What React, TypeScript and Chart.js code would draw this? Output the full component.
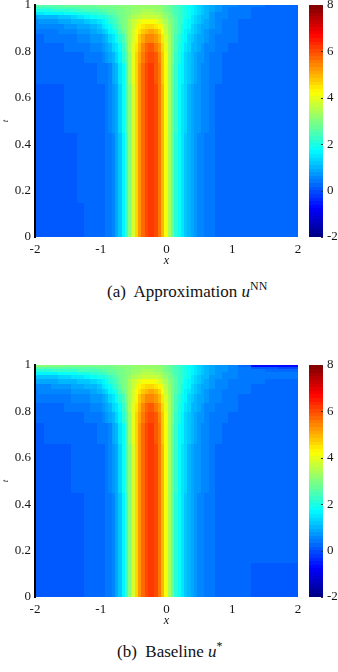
import React, { useEffect, useRef } from 'react';
import { Chart, registerables } from 'chart.js';

Chart.register(...registerables);

// grid columns (x) and rows (t)
const X_LEFT = [-2, -1.9, -1.8, -1.7, -1.6, -1.5, -1.4, -1.3, -1.2, -1.1, -1.0];
const X_MID = [-0.95, -0.9, -0.85, -0.8, -0.75, -0.7, -0.65, -0.6,
  -0.55, -0.5, -0.45, -0.4, -0.35, -0.3, -0.25, -0.2,
  -0.15, -0.1, -0.05, 0, 0.05, 0.1, 0.15, 0.2,
  0.25, 0.3, 0.35, 0.4, 0.45, 0.5, 0.55, 0.6];
const X_RIGHT = [0.7, 0.8, 0.9, 1.0, 1.2, 1.4, 1.6, 1.8, 2.0];
const T_NODES = [0, 0.3, 0.6, 0.72, 0.78, 0.82, 0.86, 0.89, 0.91, 0.93, 0.95, 0.965, 0.98, 0.99, 1.0];

const X_TICK_STEP = 1;
const T_TICK_STEP = 0.2;
const CB_MIN = -2;
const CB_MAX = 8;
const CB_STEP = 2;

// ---- (a) Approximation u^NN (rows bottom -> top) ----
const A_LEFT = [
  [0.15,0.15,0.15,0.15,0.15,0.16,0.17,0.18,0.2,0.22,0.25],
  [0.15,0.15,0.15,0.15,0.16,0.17,0.18,0.19,0.2,0.22,0.25],
  [0.17,0.17,0.17,0.18,0.18,0.19,0.2,0.21,0.22,0.24,0.27],
  [0.19,0.2,0.2,0.21,0.22,0.24,0.26,0.28,0.3,0.33,0.37],
  [0.22,0.23,0.24,0.25,0.27,0.29,0.31,0.34,0.38,0.42,0.48],
  [0.27,0.28,0.29,0.31,0.33,0.35,0.38,0.42,0.47,0.53,0.6],
  [0.33,0.34,0.36,0.38,0.41,0.44,0.48,0.53,0.6,0.68,0.8],
  [0.42,0.44,0.46,0.49,0.53,0.57,0.62,0.69,0.77,0.86,0.97],
  [0.5,0.52,0.55,0.59,0.64,0.7,0.77,0.85,0.95,1.07,1.25],
  [0.65,0.68,0.72,0.77,0.83,0.9,0.98,1.07,1.18,1.32,1.5],
  [0.95,1.0,1.05,1.11,1.18,1.26,1.35,1.46,1.6,1.78,1.95],
  [1.5,1.55,1.6,1.66,1.72,1.79,1.86,1.94,2.03,2.13,2.24],
  [1.95,2.0,2.05,2.1,2.15,2.2,2.26,2.32,2.38,2.45,2.52],
  [2.3,2.33,2.36,2.4,2.44,2.48,2.52,2.56,2.6,2.65,2.7],
  [2.6,2.62,2.64,2.66,2.68,2.7,2.72,2.75,2.78,2.81,2.85],
];
const A_MID = [
  [0.3,0.36,0.46,0.62, 0.85,1.2,1.7,2.35, 3.1,3.9,4.6,5.25, 5.75,6.05,6.2,6.2, 6.0,5.55,4.9,4.15, 3.4,2.75,2.2,1.8, 1.5,1.25,1.05,0.9, 0.76,0.64,0.55,0.48],
  [0.3,0.36,0.46,0.62, 0.85,1.2,1.7,2.35, 3.1,3.9,4.6,5.25, 5.75,6.05,6.2,6.2, 6.0,5.55,4.9,4.15, 3.4,2.75,2.2,1.8, 1.5,1.25,1.05,0.9, 0.76,0.64,0.55,0.48],
  [0.33,0.4,0.52,0.7, 0.95,1.3,1.78,2.4, 3.12,3.9,4.6,5.25, 5.75,6.05,6.2,6.2, 6.0,5.55,4.9,4.15, 3.42,2.78,2.25,1.85, 1.55,1.3,1.1,0.94, 0.8,0.68,0.58,0.5],
  [0.4,0.48,0.62,0.85, 1.1,1.45,1.9,2.5, 3.2,3.95,4.6,5.2, 5.7,6.0,6.15,6.15, 5.95,5.5,4.85,4.15, 3.45,2.8,2.3,1.9, 1.6,1.35,1.15,0.98, 0.84,0.72,0.62,0.54],
  [0.56,0.68,0.85,1.05, 1.35,1.7,2.1,2.65, 3.3,4.0,4.6,5.15, 5.6,5.9,6.05,6.05, 5.85,5.4,4.8,4.1, 3.45,2.85,2.35,1.95, 1.65,1.42,1.22,1.05, 0.9,0.78,0.68,0.6],
  [0.7,0.85,1.05,1.3, 1.58,1.9,2.3,2.8, 3.35,3.95,4.5,5.0, 5.4,5.7,5.85,5.85, 5.65,5.25,4.7,4.05, 3.45,2.9,2.45,2.05, 1.75,1.5,1.3,1.12, 0.97,0.84,0.74,0.65],
  [0.92,1.08,1.3,1.55, 1.85,2.15,2.5,2.95, 3.4,3.9,4.35,4.75, 5.1,5.35,5.45,5.45, 5.3,4.95,4.45,3.9, 3.35,2.9,2.5,2.15, 1.85,1.6,1.4,1.22, 1.06,0.93,0.82,0.72],
  [1.15,1.35,1.6,1.85, 2.1,2.4,2.7,3.05, 3.45,3.85,4.2,4.55, 4.8,5.0,5.05,5.05, 4.9,4.6,4.2,3.75, 3.3,2.9,2.55,2.25, 1.95,1.7,1.5,1.32, 1.15,1.0,0.88,0.78],
  [1.45,1.65,1.88,2.1, 2.35,2.6,2.85,3.15, 3.45,3.75,4.05,4.3, 4.5,4.62,4.68,4.66, 4.55,4.3,3.95,3.6, 3.25,2.9,2.6,2.3, 2.05,1.8,1.6,1.4, 1.22,1.07,0.94,0.83],
  [1.72,1.9,2.1,2.3, 2.5,2.7,2.92,3.15, 3.4,3.65,3.85,4.0, 4.12,4.2,4.22,4.2, 4.1,3.92,3.68,3.4, 3.12,2.85,2.6,2.35, 2.1,1.88,1.68,1.48, 1.3,1.14,1.0,0.88],
  [2.05,2.2,2.35,2.5, 2.64,2.78,2.93,3.08, 3.23,3.38,3.5,3.6, 3.68,3.73,3.75,3.73, 3.65,3.53,3.37,3.17, 2.96,2.75,2.55,2.35, 2.15,1.95,1.76,1.57, 1.4,1.24,1.1,0.97],
  [2.35,2.45,2.55,2.65, 2.75,2.85,2.95,3.05, 3.15,3.25,3.35,3.42, 3.48,3.52,3.53,3.5, 3.44,3.34,3.2,3.04, 2.86,2.68,2.5,2.32, 2.14,1.96,1.78,1.6, 1.44,1.29,1.15,1.02],
  [2.58,2.64,2.7,2.76, 2.82,2.88,2.95,3.02, 3.09,3.16,3.22,3.28, 3.32,3.35,3.36,3.34, 3.3,3.22,3.1,2.96, 2.8,2.64,2.48,2.32, 2.16,2.0,1.83,1.66, 1.5,1.35,1.2,1.07],
  [2.74,2.78,2.82,2.86, 2.9,2.95,3.0,3.05, 3.1,3.15,3.2,3.24, 3.27,3.3,3.3,3.28, 3.24,3.16,3.05,2.92, 2.77,2.62,2.47,2.32, 2.17,2.02,1.86,1.7, 1.54,1.39,1.24,1.1],
  [2.87,2.9,2.93,2.96, 2.99,3.02,3.05,3.08, 3.12,3.16,3.2,3.23, 3.26,3.28,3.28,3.26, 3.22,3.14,3.03,2.9, 2.75,2.6,2.45,2.3, 2.15,2.0,1.85,1.7, 1.55,1.4,1.25,1.12],
];
const A_RIGHT = [
  [0.38,0.32,0.28,0.25,0.2,0.2,0.21,0.22,0.22],
  [0.38,0.32,0.28,0.25,0.21,0.21,0.22,0.23,0.23],
  [0.4,0.34,0.3,0.27,0.24,0.24,0.25,0.25,0.25],
  [0.43,0.36,0.31,0.28,0.25,0.25,0.25,0.25,0.25],
  [0.48,0.4,0.34,0.3,0.26,0.25,0.25,0.25,0.25],
  [0.52,0.43,0.37,0.32,0.27,0.26,0.26,0.26,0.26],
  [0.58,0.48,0.4,0.35,0.29,0.27,0.26,0.26,0.26],
  [0.62,0.51,0.43,0.37,0.31,0.28,0.27,0.27,0.27],
  [0.66,0.54,0.45,0.39,0.32,0.29,0.28,0.28,0.28],
  [0.7,0.57,0.47,0.41,0.33,0.3,0.29,0.28,0.28],
  [0.77,0.62,0.51,0.44,0.35,0.31,0.29,0.28,0.28],
  [0.8,0.65,0.53,0.45,0.36,0.32,0.3,0.29,0.29],
  [0.83,0.67,0.55,0.47,0.37,0.33,0.31,0.3,0.3],
  [0.85,0.69,0.57,0.48,0.38,0.34,0.32,0.31,0.31],
  [0.87,0.7,0.58,0.5,0.4,0.35,0.33,0.32,0.32],
];

// ---- (b) Baseline u* (rows bottom -> top) ----
const B_LEFT = [
  [0.12,0.12,0.13,0.13,0.14,0.15,0.16,0.17,0.19,0.21,0.25],
  [0.13,0.13,0.14,0.14,0.15,0.16,0.17,0.18,0.2,0.22,0.25],
  [0.15,0.15,0.16,0.16,0.17,0.18,0.19,0.2,0.22,0.24,0.27],
  [0.18,0.18,0.19,0.2,0.21,0.23,0.25,0.27,0.3,0.33,0.37],
  [0.22,0.22,0.23,0.24,0.26,0.28,0.3,0.33,0.37,0.42,0.48],
  [0.27,0.28,0.29,0.31,0.33,0.35,0.38,0.42,0.47,0.53,0.6],
  [0.36,0.37,0.39,0.41,0.44,0.47,0.51,0.56,0.62,0.7,0.8],
  [0.48,0.5,0.52,0.55,0.58,0.62,0.67,0.73,0.8,0.88,0.97],
  [0.6,0.62,0.65,0.68,0.72,0.77,0.83,0.9,0.98,1.08,1.25],
  [0.82,0.85,0.88,0.92,0.97,1.02,1.08,1.15,1.24,1.36,1.5],
  [1.15,1.18,1.22,1.27,1.32,1.38,1.45,1.53,1.63,1.78,1.95],
  [1.6,1.63,1.67,1.72,1.77,1.83,1.9,1.97,2.05,2.14,2.24],
  [2.15,2.17,2.2,2.23,2.26,2.3,2.34,2.38,2.42,2.47,2.52],
  [2.55,2.56,2.57,2.58,2.6,2.61,2.62,2.64,2.66,2.68,2.7],
  [3.0,3.0,3.0,3.0,3.0,2.98,2.97,2.96,2.95,2.95,2.95],
];
const B_MID_TOP = [2.95,2.96,2.97,2.98, 3.0,3.02,3.05,3.08, 3.12,3.16,3.2,3.23, 3.26,3.28,3.28,3.26, 3.22,3.14,3.03,2.9, 2.75,2.6,2.45,2.3, 2.15,2.0,1.85,1.7, 1.55,1.4,1.25,1.12];
const B_MID = [...A_MID.slice(0, 14), B_MID_TOP];
const B_RIGHT = [
  [0.36,0.3,0.26,0.23,0.19,0.18,0.18,0.18,0.18],
  [0.37,0.31,0.27,0.24,0.21,0.2,0.2,0.2,0.2],
  [0.38,0.32,0.28,0.26,0.23,0.22,0.22,0.23,0.23],
  [0.43,0.36,0.32,0.29,0.25,0.24,0.24,0.24,0.24],
  [0.48,0.41,0.36,0.32,0.28,0.26,0.25,0.25,0.25],
  [0.53,0.45,0.39,0.35,0.3,0.28,0.27,0.27,0.27],
  [0.6,0.51,0.44,0.39,0.33,0.3,0.29,0.29,0.29],
  [0.65,0.56,0.48,0.43,0.36,0.32,0.3,0.3,0.3],
  [0.69,0.59,0.51,0.46,0.38,0.34,0.32,0.31,0.31],
  [0.74,0.63,0.55,0.49,0.41,0.36,0.34,0.33,0.33],
  [0.8,0.68,0.59,0.53,0.44,0.39,0.36,0.35,0.35],
  [0.84,0.72,0.63,0.57,0.47,0.41,0.38,0.37,0.37],
  [0.87,0.75,0.66,0.6,0.48,0.35,0.3,0.28,0.28],
  [0.89,0.77,0.68,0.62,0.42,0.1,0.05,0.0,0.0],
  [0.9,0.78,0.7,0.64,0.2,-0.7,-0.75,-0.75,-0.75],
];

const X_NODES = [...X_LEFT, ...X_MID, ...X_RIGHT];
function buildGrid(left: number[][], mid: number[][], right: number[][]) {
  return mid.map((m, j) => [...left[j], ...m, ...right[j]]);
}
const U_APPROX = buildGrid(A_LEFT, A_MID, A_RIGHT);
const U_BASELINE = buildGrid(B_LEFT, B_MID, B_RIGHT);

const SERIF = '"Liberation Serif", "Times New Roman", Times, "DejaVu Serif", "Noto Serif", serif';
const INK = '#151515';

function jet(v: number): string {
  let f = (v - CB_MIN) / (CB_MAX - CB_MIN);
  f = Math.max(0, Math.min(1, f));
  const k = Math.min(63, Math.floor(f * 64));
  const t = (k + 0.5) / 64;
  const c = (x: number) => Math.round(255 * Math.max(0, Math.min(1, x)));
  const r = c(1.5 - Math.abs(4 * t - 3));
  const g = c(1.5 - Math.abs(4 * t - 2));
  const b = c(1.5 - Math.abs(4 * t - 1));
  return `rgb(${r},${g},${b})`;
}

function makeHeatPlugin(grid: number[][]) {
  return {
    id: 'heat',
    beforeDraw(chart: any) {
      const { ctx, chartArea: a, scales } = chart;
      const sx = scales.x;
      const sy = scales.y;
      const sc = scales.cb;
      ctx.save();
      ctx.beginPath();
      ctx.rect(a.left, a.top, a.right - a.left, a.bottom - a.top);
      ctx.clip();
      for (let j = 0; j < T_NODES.length; j++) {
        const t0 = j === 0 ? T_NODES[0] : (T_NODES[j - 1] + T_NODES[j]) / 2;
        const t1 = j === T_NODES.length - 1 ? T_NODES[j] : (T_NODES[j] + T_NODES[j + 1]) / 2;
        const yTop = Math.floor(sy.getPixelForValue(t1));
        const yBot = Math.ceil(sy.getPixelForValue(t0));
        for (let i = 0; i < X_NODES.length; i++) {
          const x0 = i === 0 ? X_NODES[0] : (X_NODES[i - 1] + X_NODES[i]) / 2;
          const x1 = i === X_NODES.length - 1 ? X_NODES[i] : (X_NODES[i] + X_NODES[i + 1]) / 2;
          const xl = Math.floor(sx.getPixelForValue(x0));
          const xr = Math.ceil(sx.getPixelForValue(x1));
          ctx.fillStyle = jet(grid[j][i]);
          ctx.fillRect(xl, yTop, xr - xl, yBot - yTop);
        }
      }
      ctx.restore();
      // colour bar
      const cbLeft = a.right + 11;
      const cbWidth = 14;
      const n = 64;
      for (let k = 0; k < n; k++) {
        const v0 = CB_MIN + (k * (CB_MAX - CB_MIN)) / n;
        const v1 = CB_MIN + ((k + 1) * (CB_MAX - CB_MIN)) / n;
        const yt = Math.floor(sc.getPixelForValue(v1));
        const yb = Math.ceil(sc.getPixelForValue(v0));
        ctx.fillStyle = jet((v0 + v1) / 2);
        ctx.fillRect(cbLeft, yt, cbWidth, yb - yt);
      }
      ctx.fillStyle = '#333';
      for (let v = CB_MIN; v <= CB_MAX; v += CB_STEP) {
        const y = Math.round(sc.getPixelForValue(v));
        ctx.fillRect(cbLeft + cbWidth - 2, y, 2, 1);
      }
    },
  };
}

function noPad(s: any) {
  s.paddingTop = 0;
  s.paddingBottom = 0;
  s.paddingLeft = 0;
  s.paddingRight = 0;
}

function Panel({ grid, top }: { grid: number[][]; top: number }) {
  const ref = useRef<HTMLCanvasElement | null>(null);
  useEffect(() => {
    if (!ref.current) return;
    const tickFont = { family: SERIF, size: 13 };
    const chart = new Chart(ref.current, {
      type: 'scatter',
      data: { datasets: [{ data: [] as any[] }] },
      options: {
        responsive: false,
        animation: false,
        devicePixelRatio: 1,
        layout: { padding: { top: 5, left: 0, right: 0, bottom: 0 } },
        plugins: { legend: { display: false }, tooltip: { enabled: false } },
        scales: {
          x: {
            type: 'linear', position: 'bottom', min: -2, max: 2,
            grid: { display: false, drawTicks: false },
            border: { display: false },
            ticks: { stepSize: X_TICK_STEP, padding: 5, font: tickFont, color: INK, maxRotation: 0 },
            title: { display: true, text: 'x', color: INK, font: { family: SERIF, size: 12, style: 'italic' }, padding: { top: 0, bottom: 2 } },
            afterFit: (s: any) => { s.height = 33; noPad(s); },
          },
          y: {
            type: 'linear', position: 'left', min: 0, max: 1,
            grid: { display: false, drawTicks: false },
            border: { display: true, color: '#000', width: 2 },
            ticks: {
              stepSize: T_TICK_STEP, padding: 4, font: tickFont, color: INK,
              callback: (v: any) => String(Math.round(Number(v) * 10) / 10),
            },
            title: { display: true, text: 't', color: INK, font: { family: SERIF, size: 9, style: 'italic' }, padding: { top: 0, bottom: 0 } },
            afterFit: (s: any) => { s.width = 35; noPad(s); },
          },
          cb: {
            type: 'linear', position: 'right', axis: 'y', min: CB_MIN, max: CB_MAX,
            grid: { display: false, drawTicks: false },
            border: { display: false },
            ticks: { stepSize: CB_STEP, padding: 29, font: tickFont, color: INK },
            afterFit: (s: any) => { s.width = 40; noPad(s); },
          },
        },
      } as any,
      plugins: [makeHeatPlugin(grid)],
    });
    return () => chart.destroy();
  }, [grid]);
  return (
    <canvas ref={ref} width={338} height={270}
      style={{ position: 'absolute', left: 0, top, width: 338, height: 270 }} />
  );
}

const captionStyle: React.CSSProperties = {
  position: 'absolute', fontFamily: SERIF, fontSize: 17, lineHeight: '20px',
  whiteSpace: 'nowrap', color: '#111',
};
const supStyle: React.CSSProperties = { fontSize: '0.7em', verticalAlign: 'super', lineHeight: 0 };

export default function App() {
  useEffect(() => {
    document.body.style.margin = '0';
  }, []);
  return (
    <div style={{ position: 'relative', width: 338, height: 672, background: '#fff', overflow: 'hidden' }}>
      <Panel grid={U_APPROX} top={0} />
      <div style={{ ...captionStyle, left: 107, top: 282 }}>
        (a)&nbsp; Approximation <i>u</i><span style={supStyle}>NN</span>
      </div>
      <Panel grid={U_BASELINE} top={360} />
      <div style={{ ...captionStyle, left: 117, top: 642 }}>
        (b)&nbsp; Baseline <i>u</i><span style={supStyle}>*</span>
      </div>
    </div>
  );
}
